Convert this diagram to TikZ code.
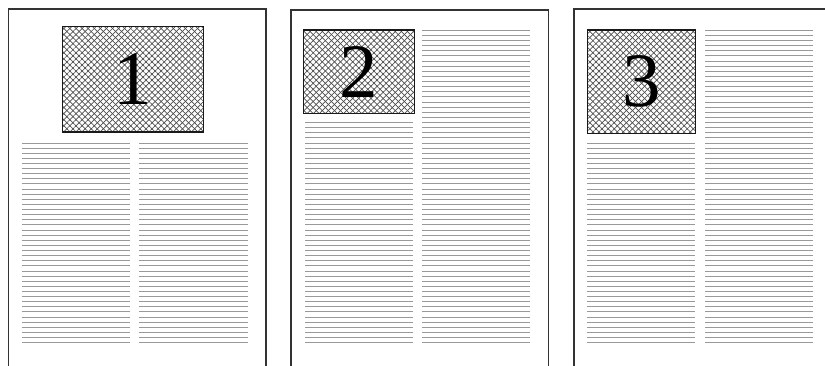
\documentclass[tikz,border=0pt]{standalone}
\usepackage{fontspec}
\setmainfont{Liberation Serif}
\usetikzlibrary{patterns.meta}
\tikzset{
  pageframe/.style={draw=black!80, line width=1.6pt},
  textline/.style={draw=black!40, line width=1pt},
  figbox/.style={draw=black!90, line width=1.4pt, inner sep=0pt,
    pattern={Lines[angle=45,distance=4.3pt,line width=0.7pt]}, pattern color=black!70,
    preaction={pattern={Lines[angle=-45,distance=4.3pt,line width=0.7pt]}, pattern color=black!70},
    font=\fontsize{77}{77}\selectfont}
}
\newcommand{\colines}[4]{% x1, x2, count, last y
  \foreach \i in {1,...,#3}{
    \draw[textline] (#1,{#4-(\i-1)*5.12}) -- (#2,{#4-(\i-1)*5.12});
  }}
\begin{document}
\begin{tikzpicture}[x=1pt,y=-1pt]
\useasboundingbox (0,0) rectangle (825,366);
% page frames (open at the bottom)
\draw[pageframe] (8.3,367) -- (8.3,9.3) -- (265.7,9.3) -- (265.7,367);
\draw[pageframe] (291,367) -- (291,10) -- (548.3,10) -- (548.3,367);
\draw[pageframe] (574,367) -- (574,9.3) -- (827,9.3);
% text lines
\colines{21.7}{130}{40}{342.7}
\colines{139.3}{247.7}{40}{342.7}
\colines{305}{412.7}{44}{342.7}
\colines{422.3}{530}{62}{342.7}
\colines{587.3}{695.3}{40}{342.7}
\colines{705.3}{812.7}{62}{342.7}
% figures
\node[figbox, minimum width=140.6pt, minimum height=105.3pt] (f1) at (133,79.35) {1};
\node[figbox, minimum width=111pt, minimum height=83.3pt] (f2) at (358.8,71.65) {2};
\node[figbox, minimum width=108pt, minimum height=103.3pt] (f3) at (641.3,81.65) {3};
\end{tikzpicture}
\end{document}
